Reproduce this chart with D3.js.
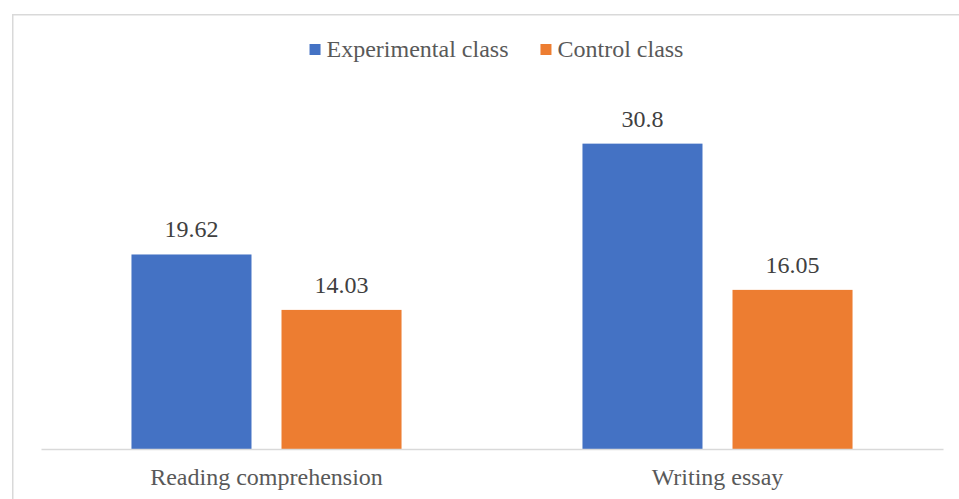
<!DOCTYPE html>
<html><head><meta charset="utf-8">
<script src="https://cdn.jsdelivr.net/npm/d3@7"></script>
<style>html,body{margin:0;padding:0;background:#fff;}svg{display:block;}</style>
</head><body>
<svg id="c" width="959" height="499"></svg>
<script>
const categories = ["Reading comprehension", "Writing essay"];
const seriesNames = ["Experimental class", "Control class"];
const experimental = [19.62, 30.8];
const control = [14.03, 16.05];
const valueLabels = [["19.62", "30.8"], ["14.03", "16.05"]];
const colors = ["#4472C4", "#ED7D31"];
const seriesValues = [experimental, control];

const svg = d3.select("#c");
const font = "'Liberation Serif','Times New Roman',serif";
const fs = 24;

svg.append("rect").attr("x", 12.75).attr("y", 14.75).attr("width", 1000).attr("height", 1000)
  .attr("fill", "none").attr("stroke", "#d9d9d9").attr("stroke-width", 1.5);

const baseY = 449;
const y = d3.scaleLinear().domain([0, 35]).range([baseY, 102]);
const x0 = d3.scaleBand().domain(categories).range([41, 943]).paddingInner(0).paddingOuter(0);
const x1 = d3.scaleBand().domain(seriesNames).range([0, x0.bandwidth()]).paddingInner(0.2).paddingOuter(0.603);

const g = svg.append("g");
categories.forEach((cat, ci) => {
  seriesNames.forEach((s, si) => {
    const v = seriesValues[si][ci];
    const bx = x0(cat) + x1(s);
    g.append("rect").attr("x", bx).attr("y", y(v)).attr("width", x1.bandwidth())
      .attr("height", baseY - y(v)).attr("fill", colors[si]);
    g.append("text").attr("x", bx + x1.bandwidth() / 2).attr("y", y(v) - 17)
      .attr("text-anchor", "middle").attr("font-family", font).attr("font-size", fs)
      .attr("fill", "#404040").text(valueLabels[si][ci]);
  });
});

const xAxis = d3.axisBottom(x0).tickSize(0).tickPadding(0);
const ax = svg.append("g").attr("transform", `translate(0,${baseY})`).call(xAxis);
ax.select(".domain").attr("stroke", "#d9d9d9").attr("stroke-width", 1.5);
ax.selectAll(".tick text").attr("font-family", font).attr("font-size", fs).attr("fill", "#595959")
  .attr("dy", null).attr("y", 36);

// legend
const lg = svg.append("g");
let cx = 0;
seriesNames.forEach((s, i) => {
  const it = lg.append("g").attr("transform", `translate(${cx},0)`);
  it.append("rect").attr("x", 0).attr("y", 44).attr("width", 11).attr("height", 11).attr("fill", colors[i]);
  const t = it.append("text").attr("x", 17).attr("y", 57).attr("font-family", font).attr("font-size", fs)
    .attr("fill", "#595959").text(s);
  const w = t.node().getComputedTextLength();
  cx += 17 + w + 32;
});
const totalW = cx - 32;
lg.attr("transform", `translate(${496.5 - totalW / 2},0)`);
</script>
</body></html>
